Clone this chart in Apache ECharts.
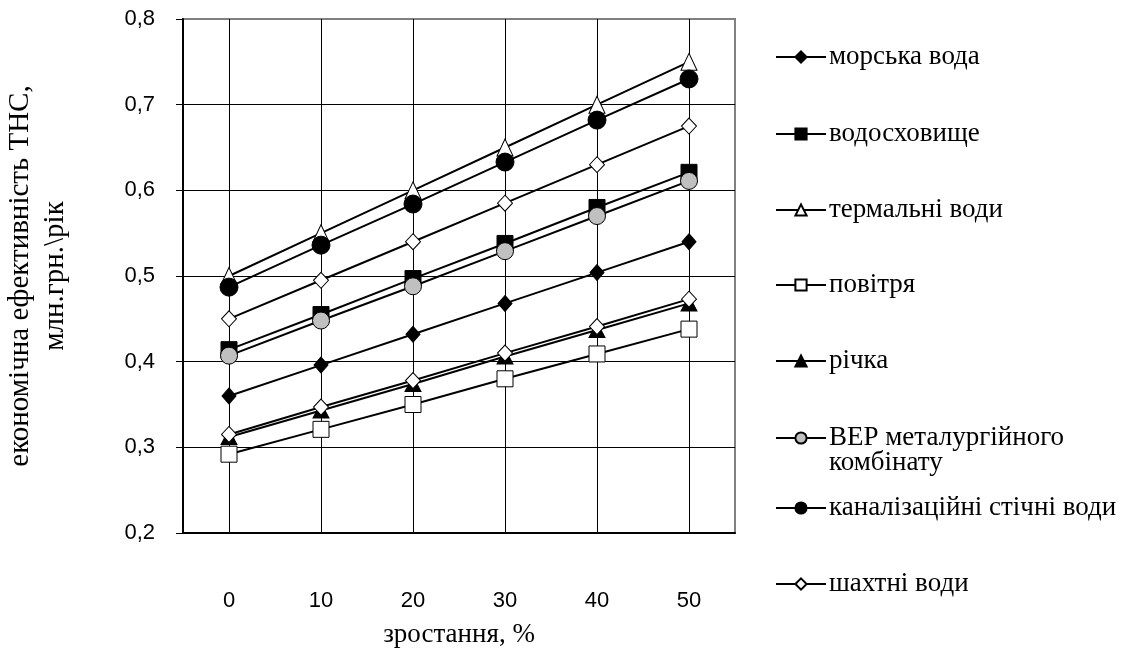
<!DOCTYPE html>
<html>
<head>
<meta charset="utf-8">
<script src="https://cdn.jsdelivr.net/npm/echarts@6/dist/echarts.min.js"></script>
<style>
  html, body { margin: 0; padding: 0; background: #fff; }
  #chart { width: 1128px; height: 653px; }
</style>
</head>
<body>
<div id="chart"></div>
<script>
// Growth steps, % (x axis)
const growth = ['0', '10', '20', '30', '40', '50'];
const yTicks = [0.2, 0.3, 0.4, 0.5, 0.6, 0.7, 0.8];

// Economic efficiency of heat pump stations, mln UAH per year
const seaWater      = [0.360, 0.396, 0.432, 0.468, 0.504, 0.540];
const reservoir     = [0.414, 0.455, 0.497, 0.538, 0.580, 0.621];
const thermalWater  = [0.500, 0.550, 0.600, 0.650, 0.700, 0.750];
const air           = [0.292, 0.321, 0.350, 0.380, 0.409, 0.438];
const river         = [0.312, 0.343, 0.374, 0.406, 0.437, 0.468];
const metallurgy    = [0.407, 0.448, 0.488, 0.529, 0.570, 0.611];
const sewage        = [0.487, 0.536, 0.584, 0.633, 0.682, 0.730];
const mineWater     = [0.450, 0.495, 0.540, 0.585, 0.630, 0.675];
const mineWater2    = [0.315, 0.347, 0.378, 0.410, 0.441, 0.473];

const names = [
  'морська вода', 'водосховище', 'термальні води', 'повітря', 'річка',
  'ВЕР металургійного комбінату', 'каналізаційні стічні води', 'шахтні води'
];

const SERIF = '"Liberation Serif", "Times New Roman", serif';
const SANS = '"Liberation Sans", Arial, sans-serif';

function lineSeries(name, data, symbol, size, fill) {
  return {
    name: name,
    type: 'line',
    data: data,
    symbol: symbol,
    symbolSize: size,
    showAllSymbol: true,
    lineStyle: { color: '#000', width: 2 },
    itemStyle: { color: fill, borderColor: '#000', borderWidth: 1 },
    emphasis: { disabled: true },
    animation: false
  };
}

const series = [
  lineSeries(names[0], seaWater, 'diamond', [14, 16], '#000'),
  lineSeries(names[1], reservoir, 'rect', 16, '#000'),
  lineSeries(names[2], thermalWater, 'triangle', [16, 17], '#fff'),
  lineSeries(names[3], air, 'rect', 16, '#fff'),
  lineSeries(names[4], river, 'triangle', [16, 15], '#000'),
  lineSeries(names[5], metallurgy, 'circle', 17, '#c0c0c0'),
  lineSeries(names[6], sewage, 'circle', 18, '#000'),
  lineSeries(names[7], mineWater, 'diamond', [15, 16], '#fff'),
  lineSeries('ряд 9', mineWater2, 'diamond', [15, 16], '#fff')
];

// legend: one block per entry so each row sits at its own height;
// the two-line entry gets a blank first row so its icon lines up with the first text line
const legendCenters = [57, 134, 210, 285, 361, 437, 508, 584];
const legends = names.map(function (n, i) {
  const multi = i === 5;
  return {
    data: [n],
    orient: 'vertical',
    left: 775,
    top: multi ? legendCenters[i] - 37.5 : legendCenters[i] - 15,
    itemWidth: 50,
    itemHeight: 14,
    itemGap: 0,
    padding: 0,
    selectedMode: false,
    formatter: multi ? function () { return '\u00a0\nВЕР металургійного\nкомбінату'; } : '{name}',
    textStyle: {
      fontFamily: SERIF,
      fontSize: 27,
      lineHeight: multi ? 25 : 30,
      color: '#000',
      padding: [0, 0, 0, -2]
    }
  };
});

const chart = echarts.init(document.getElementById('chart'), null, { renderer: 'canvas' });
chart.setOption({
  backgroundColor: '#fff',
  animation: false,
  grid: {
    left: 183, right: 393, top: 19, bottom: 118,
    show: true, borderColor: '#808080', borderWidth: 2, backgroundColor: 'transparent'
  },
  legend: legends,
  xAxis: {
    type: 'category',
    data: growth,
    boundaryGap: true,
    name: 'зростання, %',
    nameLocation: 'middle',
    nameGap: 88,
    nameTextStyle: { fontFamily: SERIF, fontSize: 27, color: '#000' },
    axisLine: { lineStyle: { color: '#000', width: 2 } },
    axisTick: { show: false },
    axisLabel: { fontFamily: SANS, fontSize: 22, color: '#000', margin: 57 },
    splitLine: { show: true, alignWithLabel: true, lineStyle: { color: '#000', width: 1 } }
  },
  yAxis: {
    type: 'value',
    min: yTicks[0],
    max: yTicks[yTicks.length - 1],
    interval: 0.1,
    name: 'економічна ефективність ТНС,\nмлн.грн.\\рік',
    nameLocation: 'middle',
    nameRotate: 90,
    nameGap: 110,
    nameTextStyle: { fontFamily: SERIF, fontSize: 29, lineHeight: 35, color: '#000' },
    axisLine: { show: true, lineStyle: { color: '#000', width: 2 } },
    axisTick: { show: true, length: 7, lineStyle: { color: '#000', width: 1 } },
    axisLabel: {
      fontFamily: SANS, fontSize: 22, color: '#000', margin: 28,
      formatter: function (v) { return v.toFixed(1).replace('.', ','); }
    },
    splitLine: {
      show: true,
      lineStyle: { color: ['#000', '#000', '#000', '#000', '#000', '#000', '#808080'], width: 1 }
    }
  },
  series: series
});
</script>
</body>
</html>
